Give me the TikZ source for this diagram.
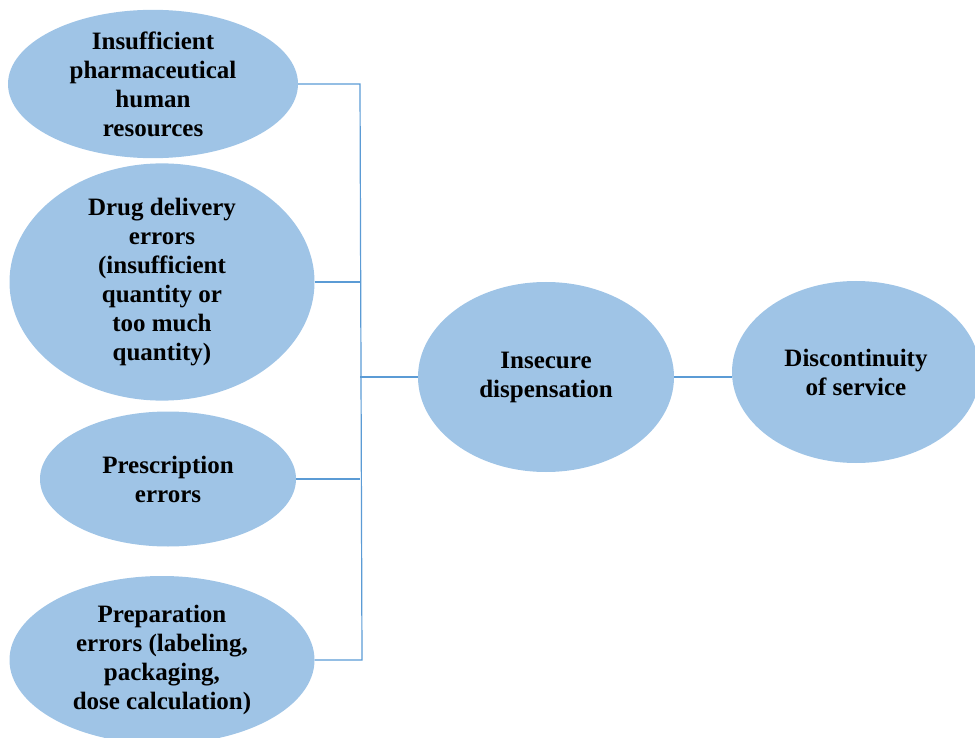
\documentclass[tikz,border=0pt]{standalone}
\usepackage{fontspec}
\setmainfont{Liberation Serif}
\usetikzlibrary{shapes.geometric}
\definecolor{bubblefill}{RGB}{159,196,230}
\definecolor{linkblue}{RGB}{91,155,213}
\begin{document}
\begin{tikzpicture}[x=1pt,y=-1pt,
  bubble/.style={ellipse, fill=bubblefill, draw=none, inner sep=0pt,
    align=center, font=\fontsize{25}{29}\selectfont\bfseries},
  link/.style={draw=linkblue, line width=1.2pt}]
\clip (0,0) rectangle (975,738);
\useasboundingbox (0,0) rectangle (975,738);
% cause bubbles
\node[bubble, minimum width=290, minimum height=146] (e1) at (153,84)
  {Insufficient\\pharmaceutical\\human\\resources};
\node[bubble, minimum width=305, minimum height=198] (e2) at (162,282)
  {Drug delivery\\errors\\(insufficient\\quantity or\\too much\\quantity)};
\node[bubble, minimum width=256, minimum height=135] (e3) at (168,479)
  {Prescription\\errors};
\node[bubble, minimum width=305, minimum height=168] (e4) at (162,660)
  {Preparation\\errors (labeling,\\packaging,\\dose calculation)};
% effect bubbles
\node[bubble, minimum width=256, minimum height=190] (ins) at (546,377)
  {Insecure\\dispensation};
\node[bubble, minimum width=248, minimum height=182] (disc) at (856,372)
  {Discontinuity\\of service};
% trunk joining the causes
\coordinate (t1) at (360,84);
\coordinate (t4) at (362,660);
\draw[link] (e1.east) -- (t1) -- (t4) -- (e4.east);
\draw[link] (e2.east) -- (e2.east -| t1);
\draw[link] (e3.east) -- (e3.east -| t1);
\draw[link] (ins.west -| t1) -- (ins.west);
\draw[link] (ins.east) -- (ins.east -| disc.west);
\end{tikzpicture}
\end{document}
